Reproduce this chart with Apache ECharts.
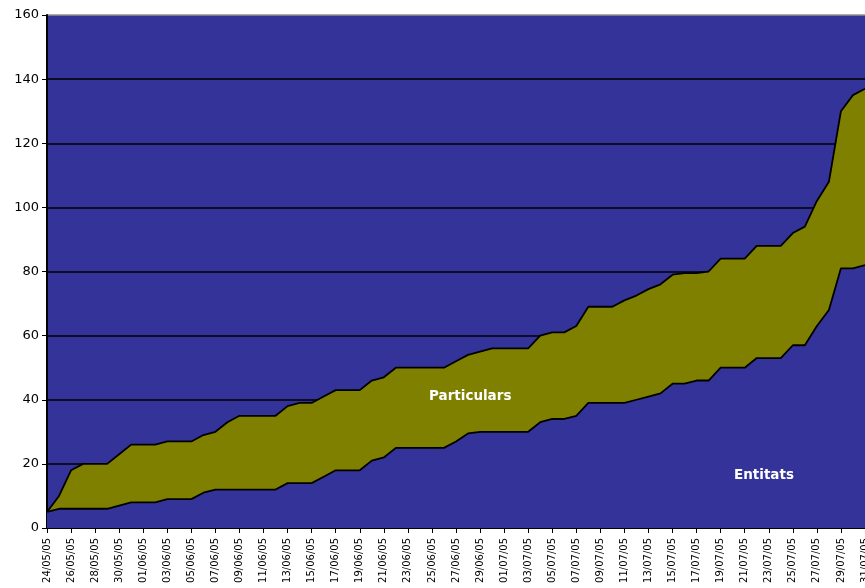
<!DOCTYPE html>
<html>
<head>
<meta charset="utf-8">
<script src="https://cdn.jsdelivr.net/npm/echarts@6/dist/echarts.min.js"></script>
<style>
html,body{margin:0;padding:0;background:#fff;overflow:hidden;}
#c{width:865px;height:588px;}
</style>
</head>
<body>
<div id="c"></div>
<script>
// Categories: daily dates 24/05/05 .. 31/07/05
const dates = ["24/05/05","25/05/05","26/05/05","27/05/05","28/05/05","29/05/05","30/05/05","31/05/05",
"01/06/05","02/06/05","03/06/05","04/06/05","05/06/05","06/06/05","07/06/05","08/06/05","09/06/05","10/06/05",
"11/06/05","12/06/05","13/06/05","14/06/05","15/06/05","16/06/05","17/06/05","18/06/05","19/06/05","20/06/05",
"21/06/05","22/06/05","23/06/05","24/06/05","25/06/05","26/06/05","27/06/05","28/06/05","29/06/05","30/06/05",
"01/07/05","02/07/05","03/07/05","04/07/05","05/07/05","06/07/05","07/07/05","08/07/05","09/07/05","10/07/05",
"11/07/05","12/07/05","13/07/05","14/07/05","15/07/05","16/07/05","17/07/05","18/07/05","19/07/05","20/07/05",
"21/07/05","22/07/05","23/07/05","24/07/05","25/07/05","26/07/05","27/07/05","28/07/05","29/07/05","30/07/05",
"31/07/05"];

// Entitats (bottom series)
const entitats = [5,6,6,6,6,6,7,8,8,8,9,9,9,11,12,12,12,12,12,12,14,14,14,16,18,18,18,21,22,25,
25,25,25,25,27,29.5,30,30,30,30,30,33,34,34,35,39,39,39,39,40,41,42,45,45,46,46,50,50,50,53,
53,53,57,57,63,68,81,81,82];

// Cumulative total (Entitats + Particulars)
const total = [5,10,18,20,20,20,23,26,26,26,27,27,27,29,30,33,35,35,35,35,38,39,39,41,43,43,43,46,47,50,
50,50,50,50,52,54,55,56,56,56,56,60,61,61,63,69,69,69,71,72.5,74.5,76,79,79.5,79.5,80,84,84,84,88,
88,88,92,94,102,108,130,135,137];

// Particulars (stacked on top)
const particulars = total.map((t, i) => +(t - entitats[i]).toFixed(2));

const yTicks = [0,20,40,60,80,100,120,140,160];

const chart = echarts.init(document.getElementById('c'), null, {renderer:'canvas', width: 865, height: 588});
const FONT = 'DejaVu Sans';
chart.setOption({
  animation: false,
  backgroundColor: '#ffffff',
  grid: {
    left: 47, right: 0, top: 15, bottom: 60,
    containLabel: false,
    outerBoundsMode: 'none',
    show: true, backgroundColor: '#333399', borderWidth: 0
  },
  xAxis: {
    type: 'category',
    data: dates,
    boundaryGap: false,
    axisLine: {lineStyle: {color: '#000', width: 2}},
    axisTick: {show: true, interval: 1, length: 5, lineStyle: {color: '#000', width: 1}},
    axisLabel: {
      interval: 1, rotate: 90, margin: 10, hideOverlap: false,
      color: '#000', fontFamily: FONT, fontSize: 10
    },
    splitLine: {show: false}
  },
  yAxis: {
    type: 'value',
    min: yTicks[0], max: yTicks[yTicks.length-1], interval: 20,
    axisLine: {show: true, lineStyle: {color: '#000', width: 2}},
    axisTick: {show: true, length: 5, lineStyle: {color: '#000', width: 1}},
    axisLabel: {color: '#000', fontFamily: FONT, fontSize: 13, margin: 8},
    splitLine: {show: true, lineStyle: {color: ['#000','#000','#000','#000','#000','#000','#000','#000','#909090'], width: 1.5}}
  },
  series: [
    {
      name: 'Entitats',
      type: 'line',
      stack: 'a',
      data: entitats,
      showSymbol: false,
      symbol: 'none',
      z: 3,
      lineStyle: {color: '#000', width: 1.8},
      areaStyle: {color: '#333399', opacity: 1}
    },
    {
      name: 'Particulars',
      type: 'line',
      stack: 'a',
      data: particulars,
      showSymbol: false,
      symbol: 'none',
      z: 2,
      lineStyle: {color: '#000', width: 1.8},
      areaStyle: {color: '#808000', opacity: 1}
    }
  ],
  graphic: [
    {type: 'text', left: 429, top: 389, z: 10,
     style: {text: 'Particulars', fill: '#fff', font: 'bold 13.5px "DejaVu Sans"'}},
    {type: 'text', left: 734, top: 468, z: 10,
     style: {text: 'Entitats', fill: '#fff', font: 'bold 13.5px "DejaVu Sans"'}}
  ]
});
</script>
</body>
</html>
